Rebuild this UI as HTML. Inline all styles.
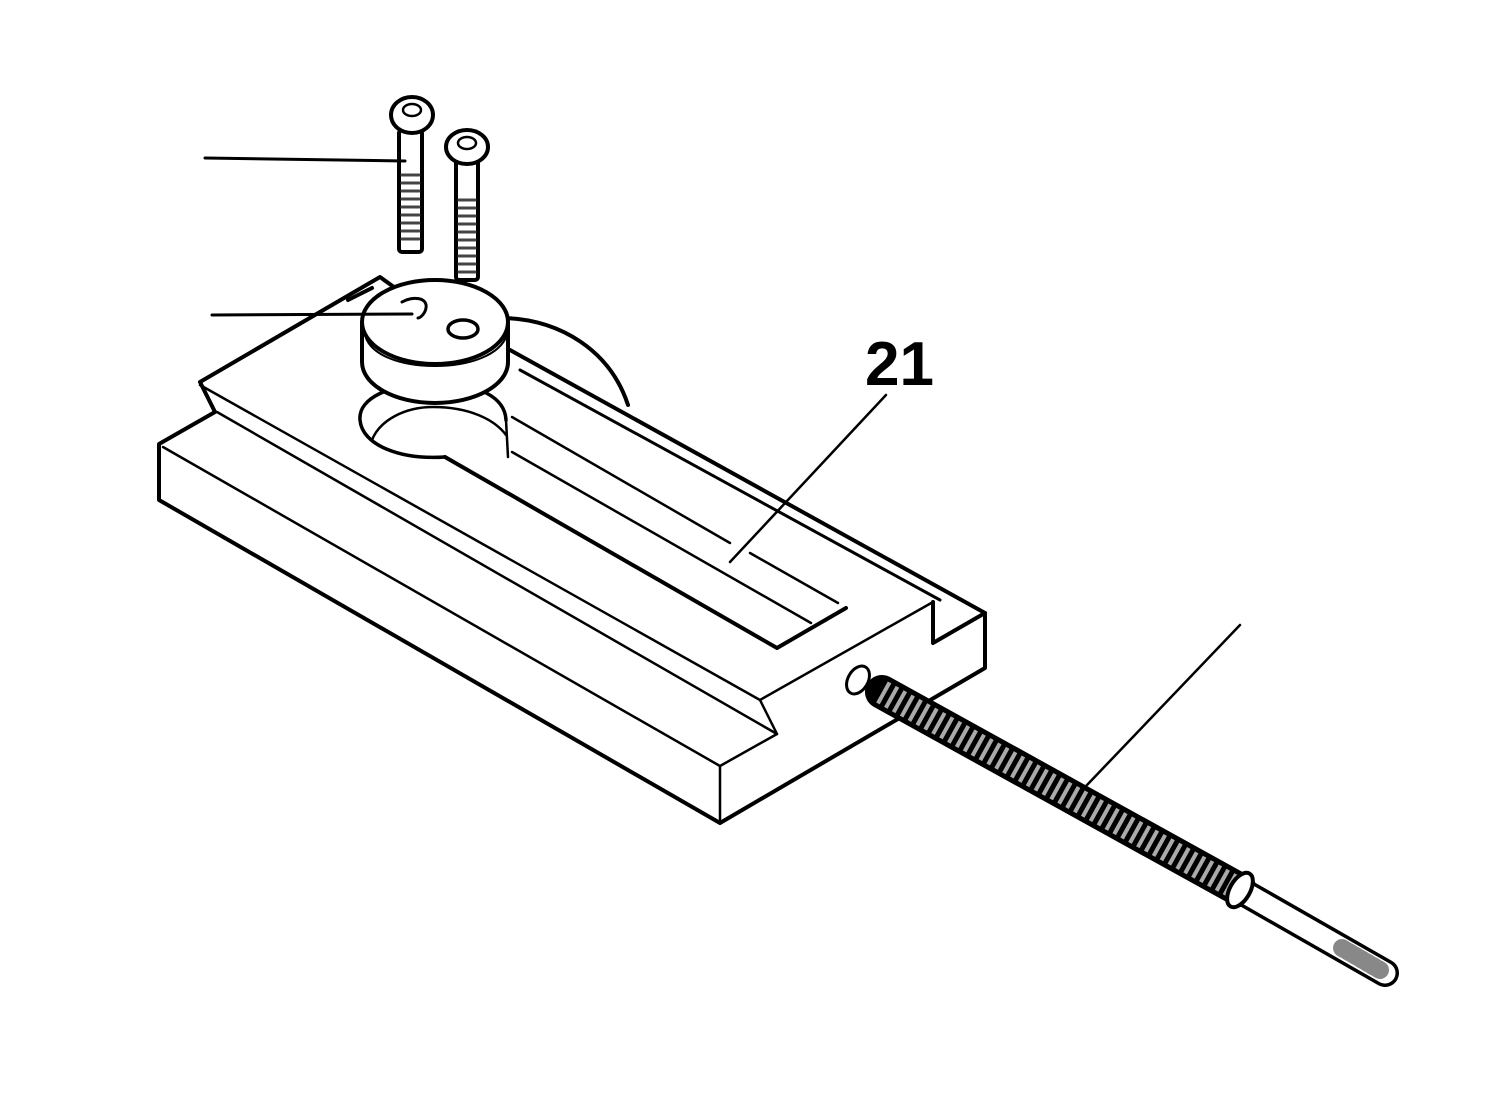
<!DOCTYPE html>
<html><head><meta charset="utf-8"><style>
html,body{margin:0;padding:0;background:#fff;}
svg{display:block;}
</style></head><body>
<svg width="1500" height="1100" viewBox="0 0 1500 1100" xmlns="http://www.w3.org/2000/svg">
<rect width="1500" height="1100" fill="#fff"/>
<g fill="none" stroke="#000" stroke-linejoin="round" stroke-linecap="round">
<!-- sector behind puck -->
<path d="M505,318 C560,320 610,350 628,405" stroke-width="4" fill="#fff"/>
<!-- top plate outline left -->
<polyline points="215,412 200,382 380,277 398,290" stroke-width="4"/>
<line x1="348" y1="300" x2="372" y2="288" stroke-width="4"/>
<!-- lower slab -->
<polyline points="215,412 159,444 159,500 720,823 985,668 985,613 933,643 933,602" stroke-width="4" fill="none"/>
<polyline points="720,823 720,766 777,734 760,700 933,602" stroke-width="2.5"/>
<line x1="163" y1="447" x2="720" y2="766" stroke-width="2.5"/>
<line x1="200" y1="385" x2="760" y2="700" stroke-width="2.5"/>
<line x1="217" y1="412" x2="777" y2="734" stroke-width="2.5"/>
<!-- far edge double line -->
<line x1="510" y1="350" x2="985" y2="613" stroke-width="4"/>
<line x1="520" y1="370" x2="940" y2="600" stroke-width="3"/>
<!-- keyhole -->
<path d="M445,457 C400,460 362,445 360,420 C358,398 390,384 433,383 C480,383 505,398 506,420" stroke-width="3.5"/>
<path d="M372,440 C380,420 405,407 433,407 C470,407 495,420 506,435" stroke-width="2.5"/>
<line x1="506" y1="420" x2="508" y2="457" stroke-width="2.5"/>
<polyline points="445,457 777,648 846,608" stroke-width="4"/>
<line x1="512" y1="452" x2="811" y2="623" stroke-width="2.5"/>
<line x1="512" y1="417" x2="730" y2="543" stroke-width="2.5"/>
<line x1="750" y1="553" x2="838" y2="603" stroke-width="2.5"/>
<!-- puck -->
<path d="M362,322 L362,362 C362,385 395,403 435,403 C475,403 508,385 508,362 L508,322" stroke-width="4" fill="#fff"/>
<ellipse cx="435" cy="322" rx="73" ry="42" stroke-width="4" fill="#fff"/>
<path d="M365,335 C370,355 400,366 435,366 C470,366 500,355 507,335" stroke-width="2"/>
<path d="M402,302 C412,296 428,297 426,308 C425,314 420,318 418,318" stroke-width="3"/>
<ellipse cx="463" cy="329" rx="15" ry="9" stroke-width="3.5"/>
<!-- screws -->
<g stroke-width="4" fill="#fff">
<rect x="399" y="130" width="23" height="122" rx="3"/>
<ellipse cx="412" cy="115" rx="21" ry="18"/>
<rect x="456" y="160" width="22" height="120" rx="3"/>
<ellipse cx="467" cy="147" rx="21" ry="17"/>
</g>
<g stroke="#444" stroke-width="3">
<path d="M402,175 h17 M402,183 h17 M402,191 h17 M402,199 h17 M402,207 h17 M402,215 h17 M402,223 h17 M402,231 h17 M402,239 h17"/>
<path d="M459,200 h16 M459,208 h16 M459,216 h16 M459,224 h16 M459,232 h16 M459,240 h16 M459,248 h16 M459,256 h16 M459,264 h16 M459,272 h16"/>
</g>
<ellipse cx="412" cy="110" rx="9" ry="6" stroke-width="2.5"/>
<ellipse cx="467" cy="143" rx="9" ry="6" stroke-width="2.5"/>
<!-- leaders -->
<line x1="205" y1="158" x2="405" y2="161" stroke-width="3"/>
<line x1="212" y1="315" x2="412" y2="314" stroke-width="3"/>
<line x1="886" y1="395" x2="730" y2="562" stroke-width="2.5"/>
<line x1="1240" y1="625" x2="1065" y2="808" stroke-width="2.5"/>
<!-- end hole -->
<ellipse cx="858" cy="680" rx="10" ry="15" transform="rotate(30 858 680)" stroke-width="3"/>
<!-- rod -->
<line x1="882" y1="692" x2="1240" y2="890" stroke="#000" stroke-width="34" stroke-linecap="round"/>
<line x1="882" y1="692" x2="1240" y2="890" stroke="#aaa" stroke-width="24" stroke-linecap="butt" stroke-dasharray="4 5"/>
<line x1="1245" y1="893" x2="1385" y2="973" stroke="#000" stroke-width="28" stroke-linecap="round"/>
<line x1="1245" y1="893" x2="1385" y2="973" stroke="#fff" stroke-width="21" stroke-linecap="round"/>
<line x1="1342" y1="948" x2="1380" y2="970" stroke="#888" stroke-width="18" stroke-dasharray="3 4"/>
<ellipse cx="1240" cy="890" rx="10" ry="19" transform="rotate(30 1240 890)" stroke-width="4" fill="#fff"/>
</g>
<text x="865" y="385" font-family="Liberation Sans, sans-serif" font-weight="bold" font-size="62" fill="#000">21</text>
</svg>
</body></html>
